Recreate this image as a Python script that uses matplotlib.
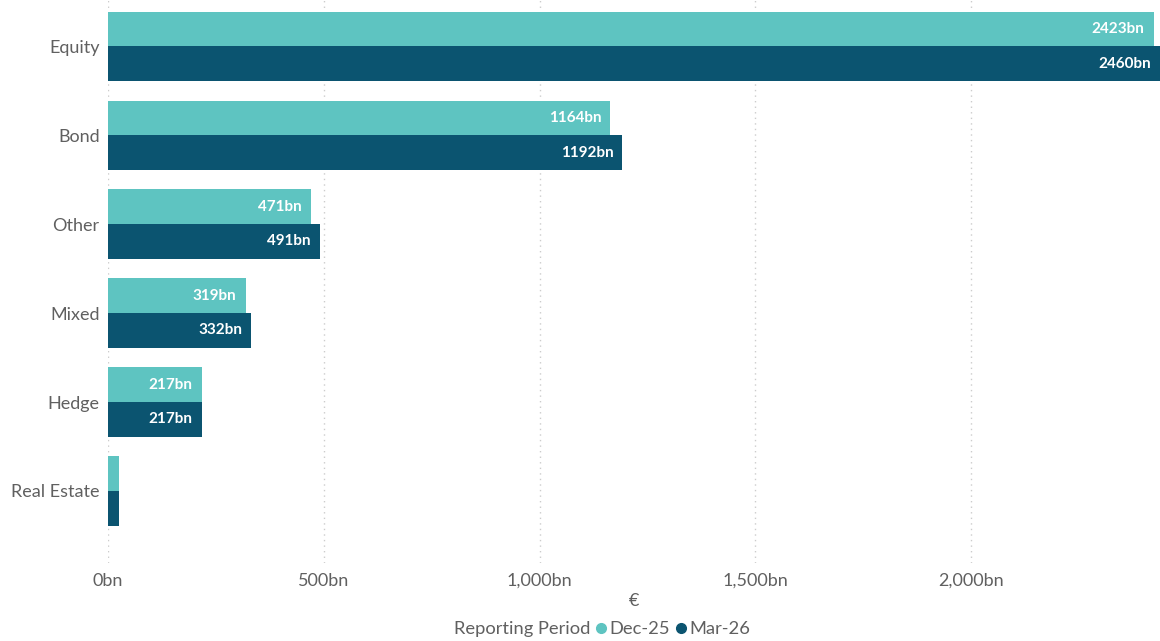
import matplotlib
matplotlib.use("Agg")
import matplotlib.pyplot as plt
from matplotlib.lines import Line2D
from matplotlib.ticker import FuncFormatter
import numpy as np

categories = ["Equity", "Bond", "Other", "Mixed", "Hedge", "Real Estate"]
dec25 = [2423, 1164, 471, 319, 217, 25]
mar26 = [2460, 1192, 491, 332, 217, 25]
series_names = ["Dec-25", "Mar-26"]
xticks = [0, 500, 1000, 1500, 2000]

DEC_COLOR = "#5ec4c1"
MAR_COLOR = "#0b5470"
TEXT = "#606060"

plt.rcParams["font.family"] = ["Lato", "DejaVu Sans"]

fig = plt.figure(figsize=(11.6, 6.41), dpi=100)
ax = fig.add_axes([108 / 1160, 1 - 563 / 641, 1 - 108 / 1160, 563 / 641])

y = np.arange(len(categories))
h = 0.39
xmax = 2438
ax.barh(y - h / 2, dec25, height=h, color=DEC_COLOR, zorder=2)
ax.barh(y + h / 2, mar26, height=h, color=MAR_COLOR, zorder=2)

# value labels inside the bar ends (skip the tiny Real Estate bars)
for vals, off in [(dec25, -h / 2), (mar26, h / 2)]:
    for i, v in enumerate(vals):
        if v < 100:
            continue
        ax.annotate(f"{v}bn", (min(v, xmax), i + off), xytext=(-6.5, 0),
                    textcoords="offset points", ha="right", va="center",
                    color="white", fontsize=11, fontweight="bold", zorder=3)

ax.set_xlim(0, xmax)
ax.set_ylim(5.81, -0.52)
ax.set_yticks(y)
ax.set_yticklabels(categories)
ax.set_xticks(xticks)
ax.xaxis.set_major_formatter(FuncFormatter(lambda v, _: f"{v:,.0f}bn"))
ax.tick_params(axis="both", length=0, labelsize=13, labelcolor=TEXT)
ax.tick_params(axis="x", pad=7)
ax.tick_params(axis="y", pad=6)
ax.grid(axis="x", color="#cccccc", linestyle=(0, (1, 3)), linewidth=1, zorder=0)
for s in ax.spines.values():
    s.set_visible(False)
ax.set_xlabel("€", fontsize=13, color=TEXT, labelpad=3)

handles = [Line2D([], [], linestyle="none"),
           Line2D([], [], linestyle="none", marker="o", markersize=7, color=DEC_COLOR),
           Line2D([], [], linestyle="none", marker="o", markersize=7, color=MAR_COLOR)]
leg = fig.legend(handles, ["Reporting Period"] + series_names, loc="center",
                 bbox_to_anchor=(0.513, 1 - 629 / 641), ncol=3, frameon=False,
                 fontsize=13.2, handlelength=0.6, handletextpad=0.15, columnspacing=0.3,
                 labelcolor=TEXT)

fig.savefig("out.png", dpi=100)
